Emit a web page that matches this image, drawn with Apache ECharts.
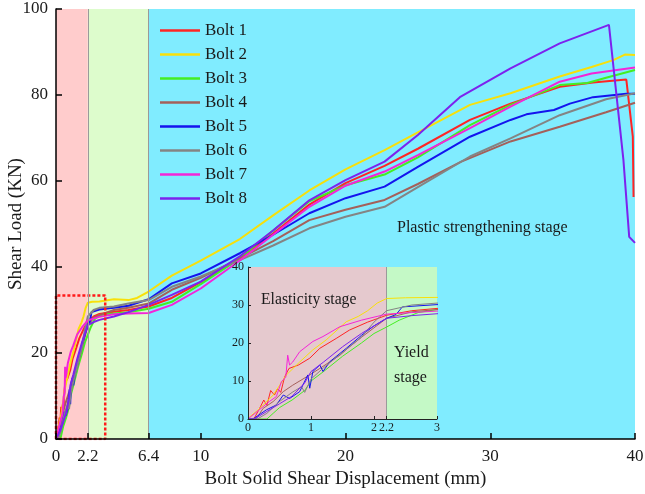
<!DOCTYPE html>
<html><head><meta charset="utf-8">
<script src="https://cdn.jsdelivr.net/npm/echarts@6/dist/echarts.min.js"></script>
<style>html,body{margin:0;padding:0;background:#fff}#c{width:645px;height:494px}</style>
</head><body><div id="c"></div>
<script>
const seriesNames = ['Bolt 1','Bolt 2','Bolt 3','Bolt 4','Bolt 5','Bolt 6','Bolt 7','Bolt 8'];
const seriesColors = ['#FF2424','#F8E00A','#44EE22','#A4605A','#1414EE','#848484','#F424D8','#7C22EE'];

const bolt1 = [[0,0],[0.1,0.2],[0.2,3.3],[0.25,5],[0.3,3.6],[0.36,7.5],[0.42,6.3],[0.47,8],[0.52,7],[0.58,11],[0.65,13.3],[0.8,14.2],[0.98,16],[1.14,18.6],[1.4,21.2],[1.61,23.4],[1.9,25.5],[2.2,27.3],[2.6,28.5],[3,29.1],[4,29.6],[5,30],[6.4,30.8],[8,32.8],[10,36.5],[12.7,42],[15,47.8],[17.5,54.5],[20,59.5],[22.7,63.5],[25,67.5],[28.6,74.2],[31.4,78],[34.8,81.9],[37.1,82.9],[39.4,83.6],[39.85,70.3],[39.9,56.3]];
const bolt2 = [[0,0.2],[0.19,2.8],[0.4,6.3],[0.61,11.6],[0.82,15],[1.03,18.2],[1.24,20.8],[1.56,25.6],[1.75,27],[1.9,28.5],[2.05,30.5],[2.2,31.7],[2.5,31.9],[3,32],[4,32.5],[5,32.3],[5.6,32.8],[6.4,34.3],[8,38],[10,41.5],[12.7,46.5],[15,52],[17.5,57.8],[20,62.7],[22.7,67.2],[25,71.3],[28.6,77.7],[31.4,80.4],[34.8,84.3],[37,86.5],[38.5,88.1],[39.3,89.4],[40,89.3]];
const bolt3 = [[0,0],[0.3,0],[0.4,1.5],[0.5,3],[0.7,5],[0.9,7.5],[1.0,10],[1.2,12.5],[1.5,16.5],[1.8,20],[2.0,22.5],[2.2,24.2],[2.4,26],[2.7,28],[3,28.8],[4,29.2],[5,29.5],[6.4,30.3],[8,31.9],[10,36],[12.7,42],[15,48.5],[17.5,55.3],[20,59],[22.7,61.5],[25,65.5],[28.6,73],[31.4,77.7],[34.8,82.3],[36.7,82.8],[38,84],[40,85.8]];
const bolt4 = [[0,0],[0.13,0],[0.24,2.8],[0.4,4.6],[0.56,7.2],[0.71,8.9],[0.93,11.1],[1.14,13.3],[1.46,16.8],[1.61,19],[1.8,21.5],[2.0,24],[2.2,26.5],[2.6,28.2],[3,28.8],[4,30],[5,30.5],[6.4,31.5],[8,34.7],[10,37.5],[12.7,42],[15,46],[17.5,50.9],[20,53.3],[22.7,55.6],[25,59.3],[28,64.5],[31.4,69.2],[34.8,72.6],[38,76],[40,78.2]];
const bolt5 = [[0,0],[0.08,0],[0.29,2.4],[0.45,3.7],[0.56,6.3],[0.66,5.4],[0.82,7.2],[0.95,11.6],[0.98,8.1],[1.03,12.5],[1.14,14.2],[1.19,12.5],[1.3,15.1],[1.56,18.6],[1.8,22],[2.0,24.5],[2.2,26.5],[2.35,27.5],[2.45,29.5],[3,30.1],[4,30.5],[5,31],[6.4,32.5],[8,36.2],[10,38.5],[12.7,43.2],[15,47.5],[17.5,52.5],[20,56],[22.7,58.7],[25,63.3],[28.6,70.3],[31.4,74.2],[32.5,75.5],[34.4,76.5],[35.5,78],[37.1,79.5],[39.4,80.3],[40,80.3]];
const bolt6 = [[0,0],[0.15,0],[0.3,1.5],[0.5,4.6],[0.7,7],[0.85,8.5],[0.9,7],[1.0,10.5],[1.2,13.5],[1.5,17.5],[1.8,21.5],[2.0,25.5],[2.2,28.5],[2.6,30],[3,30.5],[4,30.8],[5,31.5],[6.4,32.3],[8,35.4],[10,37.8],[12.7,41.6],[15,45],[17.5,49],[20,51.7],[22.7,54],[25,58.6],[28.6,65.7],[31.4,69.9],[34.8,75.3],[38,79],[40,80.4]];
const bolt7 = [[0,0],[0.03,0],[0.34,4.6],[0.45,5.9],[0.53,9.8],[0.6,11],[0.63,16.8],[0.66,14.2],[0.71,15],[0.82,17.7],[1.03,20.4],[1.19,21.7],[1.46,24.3],[1.8,26],[2.2,27.6],[2.6,28],[3,28.4],[4,29],[5,29.2],[6.4,29.3],[8,31.2],[10,35],[12.7,41.5],[15,47.5],[17.5,54],[20,58.9],[22.7,62.2],[25,66],[28.6,72.3],[31.4,77.3],[34.8,83.1],[37,85],[40,86.4]];
const bolt8 = [[0,0],[0.1,0],[0.3,2],[0.5,4],[0.7,6],[0.9,9.5],[1.0,12.5],[1.2,15],[1.5,19],[1.8,22.5],[2.2,26.5],[2.6,27.2],[3,27.7],[4,28.5],[5,29.5],[6.4,31.2],[8,33.5],[10,36.6],[12.7,42.5],[15,48.5],[17.5,55.5],[20,60.2],[22.7,64.5],[25,70.7],[27.9,79.5],[31.4,86.2],[34.8,92],[38.2,96.3],[39.2,64.9],[39.6,47],[40,45.6]];
const boltData = [bolt1,bolt2,bolt3,bolt4,bolt5,bolt6,bolt7,bolt8];

const xTicks = [0,2.2,6.4,10,20,30,40];
const insetXTicks = [0,1,2,2.2,3];
const mainBands = [[0,2.2,'#FFCCCC'],[2.2,6.4,'#DDFCCC'],[6.4,40,'#80ECFF']];
const insetBands = [[0,2.2,'#E5C9CE'],[2.2,3,'#C4F9C6']];
const zoomBox = [[0,0],[0,33.4],[3.4,33.4],[3.4,0],[0,0]];

const FONT = '"Liberation Serif","Times New Roman",serif';
const TXT = '#1a1a1a';

const chart = echarts.init(document.getElementById('c'));

const series = [];
series.push({
  type:'line', xAxisIndex:0, yAxisIndex:0, data:[[0,0]], symbol:'none', lineStyle:{width:0}, z:1, silent:true,
  markArea:{silent:true, data: mainBands.map(b=>[{xAxis:b[0], itemStyle:{color:b[2]}},{xAxis:b[1]}])},
  markLine:{silent:true, symbol:'none', label:{show:false}, lineStyle:{color:'#9a9a9a',width:1,type:'solid'}, data:[{xAxis:2.2},{xAxis:6.4}]}
});
boltData.forEach((d,i)=>{
  series.push({name:seriesNames[i], type:'line', xAxisIndex:0, yAxisIndex:0, data:d, showSymbol:false, symbol:'none',
    lineStyle:{width:2, color:seriesColors[i]}, itemStyle:{color:seriesColors[i]}, z:2});
});
series.push({type:'line', xAxisIndex:0, yAxisIndex:0, data:zoomBox, symbol:'none', silent:true,
  lineStyle:{color:'#FF1A1A', width:2.5, type:[3,2]}, z:3});
series.push({
  type:'line', xAxisIndex:1, yAxisIndex:1, data:[[0,0]], symbol:'none', lineStyle:{width:0}, z:4, silent:true,
  markArea:{silent:true, data: insetBands.map(b=>[{xAxis:b[0], itemStyle:{color:b[2]}},{xAxis:b[1]}])},
  markLine:{silent:true, symbol:'none', label:{show:false}, lineStyle:{color:'#9a9a9a',width:1,type:'solid'}, data:[{xAxis:2.2}]}
});
boltData.forEach((d,i)=>{
  series.push({name:seriesNames[i], type:'line', xAxisIndex:1, yAxisIndex:1, data:d.filter(p=>p[0]<=4), showSymbol:false, symbol:'none',
    lineStyle:{width:1, color:seriesColors[i]}, itemStyle:{color:seriesColors[i]}, z:5, clip:true});
});

const option = {
  animation:false,
  backgroundColor:'#fff',
  grid:[{left:56,right:10,top:9,bottom:55,outerBoundsMode:'none',containLabel:false},
        {left:248,right:208,top:267,bottom:75,outerBoundsMode:'none',containLabel:false}],
  xAxis:[
    {gridIndex:0, type:'value', min:0, max:40, z:10,
     axisLine:{show:true, onZero:false, lineStyle:{color:'#000', width:1.5}},
     axisTick:{show:true, inside:true, length:6, customValues:xTicks, lineStyle:{color:'#000', width:1.5}},
     axisLabel:{customValues:xTicks, fontFamily:FONT, fontSize:17, color:TXT, margin:9},
     splitLine:{show:false},
     name:'Bolt Solid Shear Displacement (mm)', nameLocation:'middle', nameGap:31, nameMoveOverlap:false,
     nameTextStyle:{fontFamily:FONT, fontSize:19, color:TXT}},
    {gridIndex:1, type:'value', min:0, max:3, z:10,
     axisLine:{show:true, onZero:false, lineStyle:{color:'#222', width:1}},
     axisTick:{show:true, inside:true, length:3, customValues:insetXTicks, lineStyle:{color:'#222'}},
     axisLabel:{customValues:insetXTicks, fontFamily:FONT, fontSize:12, color:TXT, margin:3},
     splitLine:{show:false}}
  ],
  yAxis:[
    {gridIndex:0, type:'value', min:0, max:100, interval:20, z:10,
     axisLine:{show:true, onZero:false, lineStyle:{color:'#000', width:1.5}},
     axisTick:{show:true, inside:true, length:6, lineStyle:{color:'#000', width:1.5}},
     axisLabel:{fontFamily:FONT, fontSize:17, color:TXT, margin:8},
     splitLine:{show:false},
     name:'Shear Load (KN)', nameLocation:'middle', nameGap:30, nameRotate:90, nameMoveOverlap:false,
     nameTextStyle:{fontFamily:FONT, fontSize:19, color:TXT}},
    {gridIndex:1, type:'value', min:0, max:40, interval:10, z:10,
     axisLine:{show:true, onZero:false, lineStyle:{color:'#222', width:1}},
     axisTick:{show:true, inside:true, length:3, lineStyle:{color:'#222'}},
     axisLabel:{fontFamily:FONT, fontSize:12, color:TXT, margin:4},
     splitLine:{show:false}}
  ],
  legend:{
    data:seriesNames, orient:'vertical', left:160, top:22, padding:0,
    icon:'rect', itemWidth:40, itemHeight:2.5, itemGap:7,
    textStyle:{fontFamily:FONT, fontSize:17, color:TXT}
  },
  graphic:[
    {type:'text', left:397, top:220, z:100, silent:true, style:{text:'Plastic strengthening stage', font:'16px '+FONT, fill:TXT}},
    {type:'text', left:261, top:292, z:100, silent:true, style:{text:'Elasticity stage', font:'15.7px '+FONT, fill:TXT}},
    {type:'text', left:394, top:340, z:100, silent:true, style:{text:'Yield\nstage', font:'16px '+FONT, fill:TXT, align:'center', lineHeight:25}}
  ],
  series:series
};
chart.setOption(option);
</script>
</body></html>
